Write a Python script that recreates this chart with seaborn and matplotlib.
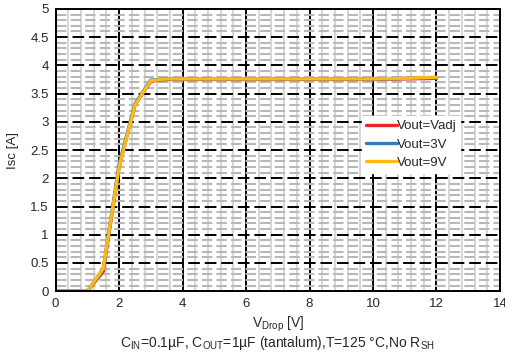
import pandas as pd
import numpy as np
import matplotlib
matplotlib.use("Agg")
import matplotlib.pyplot as plt
import seaborn as sns
from matplotlib.ticker import MultipleLocator, FormatStrFormatter

# Data
v_drop = [0, 0.5, 1, 1.5, 2, 2.5, 3, 3.5, 4, 5, 6, 7, 8, 9, 10, 11, 12]
isc_vadj = [0, 0, 0, 0.35, 2.2, 3.3, 3.72, 3.75, 3.75, 3.75, 3.75, 3.75, 3.75, 3.75, 3.75, 3.76, 3.77]
isc_3v = [0, 0, 0, 0.4, 2.25, 3.32, 3.74, 3.76, 3.76, 3.76, 3.76, 3.76, 3.76, 3.76, 3.76, 3.77, 3.78]
isc_9v = [0, 0, 0, 0.4, 2.2, 3.3, 3.73, 3.76, 3.76, 3.76, 3.76, 3.76, 3.76, 3.76, 3.76, 3.77, 3.79]
series = ['Vout=Vadj', 'Vout=3V', 'Vout=9V']
colors = ['#E8262C', '#2E7BC4', '#FDBA12']

df = pd.concat([
    pd.DataFrame({'vdrop': v_drop, 'isc': vals, 'serie': name})
    for name, vals in zip(series, [isc_vadj, isc_3v, isc_9v])
])

sns.set_style("white")
plt.rcParams['font.family'] = ['Liberation Sans', 'DejaVu Sans']
plt.rcParams['mathtext.fontset'] = 'custom'
plt.rcParams['mathtext.rm'] = 'Liberation Sans'
plt.rcParams['mathtext.it'] = 'Liberation Sans'

fig, ax = plt.subplots(figsize=(5.06, 3.56), dpi=100)
fig.subplots_adjust(left=0.11, right=0.988, top=0.975, bottom=0.182)

# grade
ax.set_xlim(0, 14)
ax.set_ylim(0, 5)
ax.xaxis.set_major_locator(MultipleLocator(2))
ax.xaxis.set_minor_locator(MultipleLocator(0.4))
ax.yaxis.set_major_locator(MultipleLocator(0.5))
ax.yaxis.set_minor_locator(MultipleLocator(0.1))
ax.yaxis.set_major_formatter(plt.FuncFormatter(lambda v, p: f'{v:g}'))
ax.grid(which='minor', axis='x', color='#cfcfcf', linewidth=1.2, linestyle='-')
ax.grid(which='minor', axis='y', color='#b8b8b8', linewidth=1.5, linestyle=(0, (5, 2)))
ax.grid(which='major', axis='x', color='black', linewidth=1.4, linestyle='-')
ax.grid(which='major', axis='y', color='black', linewidth=1.4, linestyle=(0, (6, 2.5)))
ax.set_axisbelow(True)

sns.lineplot(data=df, x='vdrop', y='isc', hue='serie', palette=colors,
             linewidth=2.4, ax=ax, sort=False)

for s in ax.spines.values():
    s.set_color('black')
    s.set_linewidth(1.4)
ax.tick_params(which='major', length=3, width=0.8, labelsize=9.5, pad=2, color='#888888')
ax.tick_params(which='minor', length=0)

ax.set_ylabel('Isc [A]', fontsize=9.5, labelpad=8)
ax.set_xlabel('V$_{\\mathrm{Drop}}$ [V]\n'
              'C$_{\\mathrm{IN}}$=0.1µF, C$_{\\mathrm{OUT}}$=1µF (tantalum),T=125 °C,No R$_{\\mathrm{SH}}$',
              fontsize=10, labelpad=3, linespacing=1.05)

leg = ax.legend(loc='center left', bbox_to_anchor=(0.69, 0.52), frameon=True, fontsize=9.5,
                handlelength=2.3, handletextpad=0.0, borderpad=0.3, labelspacing=0.45,
                fancybox=False, borderaxespad=0)
leg.get_frame().set_edgecolor('white')
leg.get_frame().set_alpha(1)
for line in leg.get_lines():
    line.set_linewidth(2.4)

plt.savefig('out.png', dpi=100)
